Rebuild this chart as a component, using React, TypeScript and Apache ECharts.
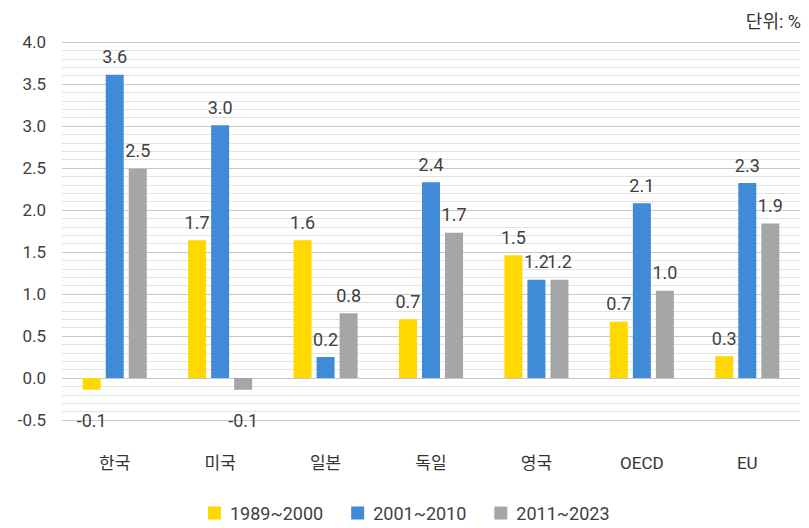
import React, { useEffect, useRef } from "react";
import * as echarts from "echarts";

const categories = ["한국", "미국", "일본", "독일", "영국", "OECD", "EU"];
const seriesNames = ["1989~2000", "2001~2010", "2011~2023"];
const values1989 = [-0.14, 1.64, 1.64, 0.7, 1.46, 0.67, 0.26];
const values2001 = [3.61, 3.01, 0.25, 2.33, 1.17, 2.08, 2.32];
const values2011 = [2.49, -0.14, 0.77, 1.73, 1.17, 1.04, 1.84];
const labels1989 = ["-0.1", "1.7", "1.6", "0.7", "1.5", "0.7", "0.3"];
const labels2001 = ["3.6", "3.0", "0.2", "2.4", "1.2", "2.1", "2.3"];
const labels2011 = ["2.5", "-0.1", "0.8", "1.7", "1.2", "1.0", "1.9"];
const colors = ["#FFD800", "#3F8BD8", "#A6A6A6"];

const FONT = "Roboto, 'Noto Sans CJK KR', sans-serif";

function makeSeries(name: string, vals: number[], labels: string[], color: string) {
  return {
    name,
    type: "bar",
    barWidth: 18,
    barGap: "28%",
    itemStyle: { color },
    data: vals.map((v, i) => ({
      value: v,
      label: {
        show: true,
        position: v < 0 ? "bottom" : "top",
        distance: v < 0 ? 22 : 9,
        formatter: () => labels[i],
        color: "#404040",
        fontSize: 18,
        fontFamily: FONT,
      },
    })),
  };
}

export default function App() {
  const ref = useRef<HTMLDivElement>(null);
  useEffect(() => {
    document.body.style.margin = "0";
    const chart = echarts.init(ref.current!, null, { renderer: "svg" });
    chart.setOption({
      animation: false,
      textStyle: { fontFamily: FONT },
      title: {
        text: "단위: %",
        right: 3,
        top: 7,
        textStyle: { fontSize: 18, fontWeight: "normal", color: "#333", fontFamily: FONT },
      },
      legend: {
        bottom: 1,
        left: 203,
        itemWidth: 13,
        itemHeight: 13,
        itemGap: 28,
        icon: "rect",
        textStyle: { fontSize: 18, color: "#404040", fontFamily: FONT, padding: [0, 0, 0, 4] },
        data: seriesNames,
      },
      grid: { left: 62, right: 9, top: 42, bottom: 108, containLabel: false },
      xAxis: {
        type: "category",
        data: categories,
        axisLine: { show: false },
        axisTick: { show: false },
        axisLabel: { margin: 34, fontSize: 17, color: "#333", fontFamily: FONT },
      },
      yAxis: {
        type: "value",
        min: -0.5,
        max: 4,
        interval: 0.5,
        axisLine: { show: false },
        axisTick: { show: false },
        axisLabel: {
          margin: 16,
          fontSize: 17,
          color: "#404040",
          fontFamily: FONT,
          formatter: (v: number) => v.toFixed(1),
        },
        splitLine: { show: true, lineStyle: { color: "#C8C8C8", width: 1 } },
        minorTick: { show: false, splitNumber: 5 },
        minorSplitLine: { show: true, lineStyle: { color: "#E2E2E2", width: 1 } },
      },
      series: [
        makeSeries(seriesNames[0], values1989, labels1989, colors[0]),
        makeSeries(seriesNames[1], values2001, labels2001, colors[1]),
        makeSeries(seriesNames[2], values2011, labels2011, colors[2]),
      ],
    });
    return () => chart.dispose();
  }, []);
  return <div ref={ref} style={{ width: 809, height: 528 }} />;
}
